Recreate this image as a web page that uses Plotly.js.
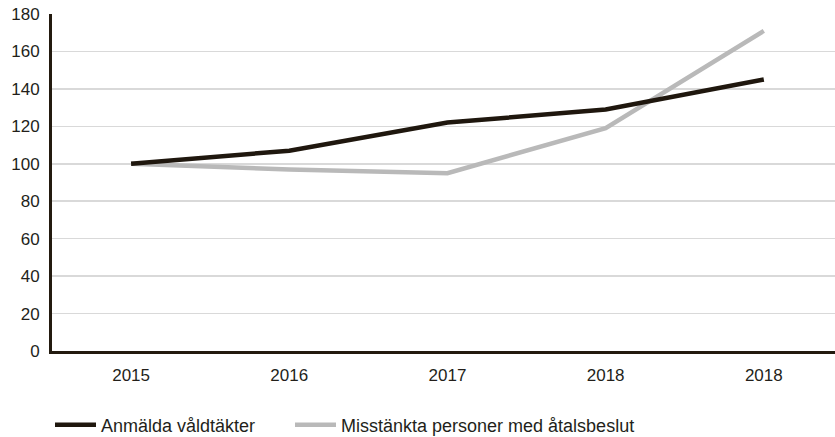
<!DOCTYPE html>
<html>
<head>
<meta charset="utf-8">
<script src="https://cdn.plot.ly/plotly-3.0.1.min.js"></script>
<style>html,body{margin:0;padding:0;background:#fff;}#chart{width:835px;height:437px;}</style>
</head>
<body>
<div id="chart"></div>
<script>
var yearLabels = ["2015", "2016", "2017", "2018", "2018"];
var positions = [0, 1, 2, 3, 4];
var anmalda = [100, 107, 122, 129, 145];
var misstankta = [100, 97, 95, 119, 171];
var yTicks = [0, 20, 40, 60, 80, 100, 120, 140, 160, 180];

var font = {family: "Liberation Sans, Arial, sans-serif", size: 17, color: "#231f1a"};

var traces = [
  {x: positions, y: misstankta, type: "scatter", mode: "lines", name: "Misstänkta personer med åtalsbeslut",
   line: {color: "#b9b9b9", width: 4.5}, hoverinfo: "skip", legend: "legend2"},
  {x: positions, y: anmalda, type: "scatter", mode: "lines", name: "Anmälda våldtäkter",
   line: {color: "#1f170e", width: 4.5}, hoverinfo: "skip", legend: "legend"}
];

function legendAt(xpx) {
  return {
    orientation: "h",
    xref: "container", yref: "container",
    x: xpx / 835, xanchor: "left",
    y: 12 / 437, yanchor: "middle",
    itemwidth: 41,
    font: {family: font.family, size: 18, color: "#231f1a"},
    bgcolor: "rgba(0,0,0,0)"
  };
}

var layout = {
  width: 835, height: 437,
  margin: {l: 52, r: 0, t: 14, b: 86},
  paper_bgcolor: "#fff", plot_bgcolor: "#fff",
  font: font,
  showlegend: true,
  legend: legendAt(50),
  legend2: legendAt(290),
  xaxis: {
    range: [-0.5, 4.45],
    tickmode: "array", tickvals: positions, ticktext: yearLabels,
    showgrid: false, zeroline: false,
    showline: true, linecolor: "#231a0f", linewidth: 3,
    ticks: "outside", ticklen: 7, tickcolor: "rgba(0,0,0,0)",
    tickfont: font, fixedrange: true
  },
  yaxis: {
    range: [0, 180],
    tickmode: "array", tickvals: yTicks,
    showgrid: true, gridcolor: "#d9d9d9", gridwidth: 1.5,
    zeroline: false,
    showline: true, linecolor: "#231a0f", linewidth: 3,
    ticks: "outside", ticklen: 6, tickcolor: "rgba(0,0,0,0)",
    tickfont: font, fixedrange: true
  }
};

Plotly.newPlot("chart", traces, layout, {displayModeBar: false, staticPlot: true});
</script>
</body>
</html>
